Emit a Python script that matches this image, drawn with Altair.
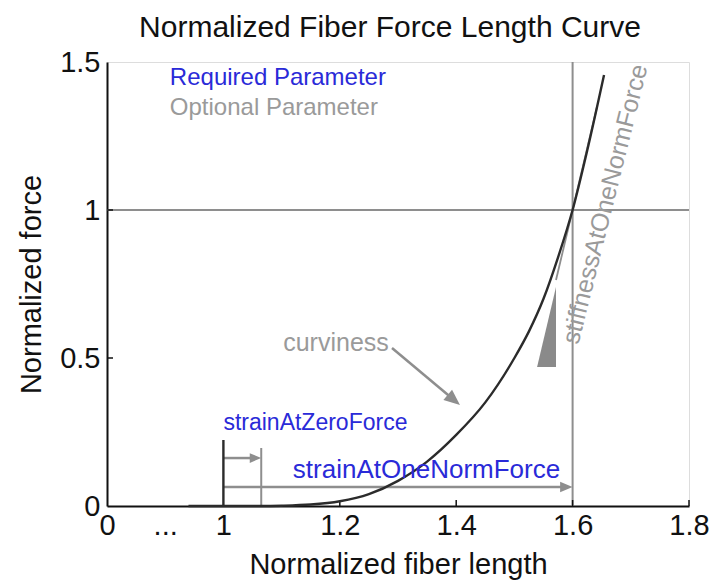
import math
import altair as alt
import pandas as pd

# ---- data -------------------------------------------------------------
# normalized fiber length vs normalized force (sampled curve)
curve_x = [0.94, 1.0, 1.065, 1.1, 1.15, 1.2, 1.25, 1.3, 1.35, 1.4, 1.45, 1.5,
           1.525, 1.55, 1.575, 1.6, 1.625, 1.654]
curve_y = [0.0, 0.0, 0.0, 0.001, 0.005, 0.016, 0.04, 0.085, 0.15, 0.24, 0.35, 0.50,
           0.59, 0.70, 0.84, 1.0, 1.2, 1.456]

strain_zero_x = 1.065      # strainAtZeroForce
strain_one_x = 1.6         # strainAtOneNormForce
stiffness = 8.3            # slope at one normalized force

x_tick_values = [0.8, 0.9, 1.0, 1.2, 1.4, 1.6, 1.8]
x_tick_labels = ["0", "...", "1", "1.2", "1.4", "1.6", "1.8"]
y_tick_values = [0, 0.5, 1.0, 1.5]
inner_x_ticks = [1.2, 1.4, 1.6, 1.8]
inner_y_ticks = [0.5, 1.0]

# ---- geometry / style -------------------------------------------------
W, H = 582, 444
X0, X1 = 0.8, 1.8
Y0, Y1 = 0.0, 1.5
BLUE = "#2a2ad8"
GRAY = "#9a9a9a"
LINE_GRAY = "#8e8e8e"
DARK = "#2b2b2b"
FONT = "Liberation Sans"

label_expr = " : ".join(
    f"abs(datum.value - {v}) < 1e-6 ? '{t}'" for v, t in zip(x_tick_values, x_tick_labels)
) + " : ''"

x_scale = alt.Scale(domain=[X0, X1], nice=False, zero=False)
y_scale = alt.Scale(domain=[Y0, Y1], nice=False)

x_axis = alt.Axis(values=x_tick_values, labelExpr=label_expr, title="Normalized fiber length",
                  grid=False, ticks=False, domainColor="#111111", domainWidth=2,
                  labelFontSize=29, titleFontSize=29, labelPadding=5, titlePadding=10,
                  labelFont=FONT, titleFont=FONT, labelColor="#111111", titleColor="#111111",
                  titleFontWeight="normal", labelFlush=False, labelOverlap=False)
y_axis = alt.Axis(values=y_tick_values, format="~g", title="Normalized force",
                  grid=False, ticks=False, domainColor="#111111", domainWidth=2,
                  labelFontSize=29, titleFontSize=29, labelPadding=7, titlePadding=13,
                  labelFont=FONT, titleFont=FONT, labelColor="#111111", titleColor="#111111",
                  titleFontWeight="normal", labelFlush=False, labelOverlap=False)


def X(field="x"):
    return alt.X(field, type="quantitative", scale=x_scale, axis=x_axis)


def Y(field="y"):
    return alt.Y(field, type="quantitative", scale=y_scale, axis=y_axis)


def px_angle(dx, dy):
    """Screen angle (degrees, clockwise) of a data-space direction."""
    return math.degrees(math.atan2(-dy * H / (Y1 - Y0), dx * W / (X1 - X0)))


# ---- layers -----------------------------------------------------------
curve_df = pd.DataFrame({"x": curve_x, "y": curve_y})
curve = alt.Chart(curve_df).mark_line(color=DARK, strokeWidth=2.4, interpolate="monotone").encode(
    x=X(), y=Y())

# reference lines: force = 1 and length at one normalized force
ref_h = alt.Chart(pd.DataFrame({"x": [X0], "x2": [X1], "y": [1.0]})).mark_rule(
    color=LINE_GRAY, strokeWidth=2).encode(x=X(), x2="x2", y=Y())
ref_v = alt.Chart(pd.DataFrame({"x": [strain_one_x], "y": [0.0], "y2": [Y1]})).mark_rule(
    color=LINE_GRAY, strokeWidth=2).encode(x=X(), y=Y(), y2="y2")

# inward tick marks
tick_len_y = 6 / H * (Y1 - Y0)
tick_len_x = 6 / W * (X1 - X0)
xt = alt.Chart(pd.DataFrame({"x": inner_x_ticks, "y": [0.0] * len(inner_x_ticks),
                             "y2": [tick_len_y] * len(inner_x_ticks)})).mark_rule(
    color="#111111", strokeWidth=1.5).encode(x=X(), y=Y(), y2="y2")
yt = alt.Chart(pd.DataFrame({"y": inner_y_ticks, "x": [X0] * len(inner_y_ticks),
                             "x2": [X0 + tick_len_x] * len(inner_y_ticks)})).mark_rule(
    color="#111111", strokeWidth=1.5).encode(x=X(), x2="x2", y=Y())

# parameter markers at x = 1 and at strainAtZeroForce
mark_one = alt.Chart(pd.DataFrame({"x": [1.0], "y": [0.0], "y2": [0.223]})).mark_rule(
    color=DARK, strokeWidth=2.4).encode(x=X(), y=Y(), y2="y2")
mark_zero = alt.Chart(pd.DataFrame({"x": [strain_zero_x], "y": [0.0], "y2": [0.196]})).mark_rule(
    color=LINE_GRAY, strokeWidth=2).encode(x=X(), y=Y(), y2="y2")

# arrows (shaft + head whose tip sits at the data point)
HEAD = "M0,0L-1,-0.42L-1,0.42Z"
arrows = [
    # (x start, y start, x tip, y tip, head size)
    (1.0, 0.162, strain_zero_x, 0.162, 529),
    (1.0, 0.064, strain_one_x, 0.064, 625),
    (1.2897, 0.534, 1.4065, 0.341, 1024),
]
arrow_layers = []
for xs, ys, xe, ye, sz in arrows:
    ang = px_angle(xe - xs, ye - ys)
    L = math.sqrt(sz) / 2 * 0.85
    back_x = xe - L * math.cos(math.radians(ang)) * (X1 - X0) / W
    back_y = ye + L * math.sin(math.radians(ang)) * (Y1 - Y0) / H
    shaft = alt.Chart(pd.DataFrame({"x": [xs], "y": [ys], "x2": [back_x], "y2": [back_y]})).mark_rule(
        color=LINE_GRAY, strokeWidth=2.5).encode(x=X(), y=Y(), x2="x2", y2="y2")
    head = alt.Chart(pd.DataFrame({"x": [xe], "y": [ye]})).mark_point(
        shape=HEAD, filled=True, size=sz, angle=(ang % 360), color=LINE_GRAY, opacity=1,
        strokeWidth=0).encode(x=X(), y=Y())
    arrow_layers += [shaft, head]

# stiffness: tangent line at (1.6, 1) and slope triangle
tri_left, tri_right, tri_base = 1.539, 1.5715, 0.47
tri_df = pd.DataFrame({"x": [tri_left, tri_right],
                       "y": [tri_base, tri_base + stiffness * (tri_right - tri_left)],
                       "y2": [tri_base, tri_base]})
triangle = alt.Chart(tri_df).mark_area(color="#8a8a8a", opacity=1).encode(x=X(), y=Y(), y2="y2")
tan_x = [tri_right, 1.642]
tangent = alt.Chart(pd.DataFrame({"x": tan_x,
                                  "y": [1.0 + stiffness * (v - strain_one_x) for v in tan_x]})).mark_line(
    color=LINE_GRAY, strokeWidth=1.8).encode(x=X(), y=Y())


def label(text, x, y, color, size, align="left", angle=0, style="normal"):
    return alt.Chart(pd.DataFrame({"x": [x], "y": [y], "t": [text]})).mark_text(
        align=align, baseline="middle", color=color, fontSize=size, font=FONT,
        angle=angle, fontStyle=style).encode(x=X(), y=Y(), text="t:N")


texts = [
    label("Required Parameter", 0.908, 1.446, BLUE, 24),
    label("Optional Parameter", 0.908, 1.345, GRAY, 24),
    label("curviness", 1.1935, 0.551, GRAY, 25, align="center"),
    label("strainAtZeroForce", 1.0, 0.28, BLUE, 23),
    label("strainAtOneNormForce", 1.349, 0.122, BLUE, 26, align="center"),
    label("stiffnessAtOneNormForce", 1.656, 1.02, GRAY, 25, align="center", angle=284),
]

chart = alt.layer(
    ref_h, ref_v, xt, yt, mark_zero, *arrow_layers, triangle, tangent, mark_one, curve, *texts
).properties(
    width=W, height=H,
    title=alt.TitleParams("Normalized Fiber Force Length Curve", fontSize=30, font=FONT,
                          fontWeight="normal", color="#111111", anchor="middle", offset=5, dx=-8),
    autosize=alt.AutoSizeParams(type="none"),
    padding={"left": 107, "top": 62, "right": 24, "bottom": 78},
).configure_view(stroke=None).configure(background="white")

chart.save("out.html", embed_options={"renderer": "svg", "actions": False})
